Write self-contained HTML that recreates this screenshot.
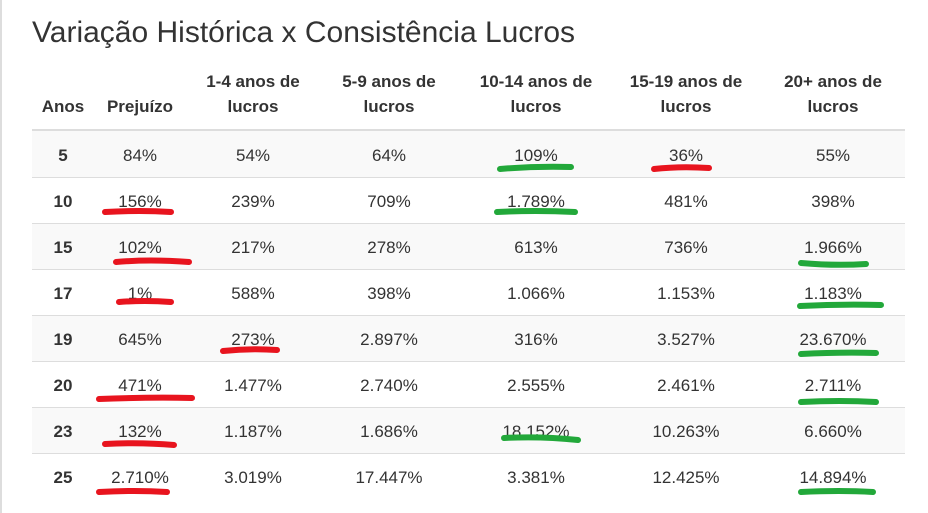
<!DOCTYPE html>
<html><head><meta charset="utf-8"><style>
body{margin:0;width:928px;height:513px;background:#fff;font-family:"Liberation Sans",Arial,sans-serif;color:#333;position:relative;overflow:hidden}
.lb{position:absolute;left:0;top:0;width:2px;height:513px;background:#ddd}
h1{position:absolute;left:32px;top:16px;margin:0;font-weight:400;font-size:30px;color:#333}
.r{position:absolute;left:32px;width:873px;height:46px;border-top:1px solid #ddd;box-sizing:border-box}
.s{background:#f9f9f9}
.c{position:absolute;transform:translateX(-50%);text-align:center;font-size:17px;white-space:nowrap}
.h{font-weight:700;line-height:25px}
</style></head><body>
<div class="lb"></div>
<h1>Variação Histórica x Consistência Lucros</h1>
<div class="c h" style="left:63px;top:94px">Anos</div>
<div class="c h" style="left:140px;top:94px">Prejuízo</div>
<div class="c h" style="left:253px;top:69px">1-4 anos de<br>lucros</div>
<div class="c h" style="left:389px;top:69px">5-9 anos de<br>lucros</div>
<div class="c h" style="left:536px;top:69px">10-14 anos de<br>lucros</div>
<div class="c h" style="left:686px;top:69px">15-19 anos de<br>lucros</div>
<div class="c h" style="left:833px;top:69px">20+ anos de<br>lucros</div>
<div style="position:absolute;left:32px;top:129px;width:873px;height:2px;background:#ddd"></div>
<div id="t"></div>
<script>
var d=[["5","84%","54%","64%","109%","36%","55%"],["10","156%","239%","709%","1.789%","481%","398%"],["15","102%","217%","278%","613%","736%","1.966%"],["17","1%","588%","398%","1.066%","1.153%","1.183%"],["19","645%","273%","2.897%","316%","3.527%","23.670%"],["20","471%","1.477%","2.740%","2.555%","2.461%","2.711%"],["23","132%","1.187%","1.686%","18.152%","10.263%","6.660%"],["25","2.710%","3.019%","17.447%","3.381%","12.425%","14.894%"]];
var xs=[63,140,253,389,536,686,833],h="";
d.forEach(function(r,i){var y=131+i*46;h+='<div class="r'+(i%2==0?' s':'')+'" style="top:'+y+'px;'+(i==0?'border-top:none':'')+'"></div>';
r.forEach(function(v,j){h+='<div class="c" style="left:'+xs[j]+'px;top:'+(y+15)+'px;'+(j==0?'font-weight:700':'')+'">'+v+'</div>'})});
document.getElementById('t').innerHTML=h;
</script>
<svg width="928" height="513" style="position:absolute;left:0;top:0" fill="none" stroke-width="6" stroke-linecap="round">
<g stroke="#e8141e">
<path d="M654 169Q680 166 709 168"/><path d="M105 212Q140 210 171 212"/><path d="M116 262Q150 259 189 262"/><path d="M119 302Q145 300 171 302"/><path d="M223 351Q250 348 277 350"/><path d="M99 399Q150 397 192 398"/><path d="M105 444Q140 442 174 445"/><path d="M99 492Q135 490 167 492"/>
</g>
<g stroke="#22a83a">
<path d="M500 169Q535 166 571 167"/><path d="M497 212Q535 210 575 212"/><path d="M801 263Q835 266 866 264"/><path d="M800 306Q840 304 881 305"/><path d="M801 354Q840 352 876 353"/><path d="M801 402Q840 400 876 402"/><path d="M504 438Q540 436 578 440"/><path d="M801 492Q840 490 873 492"/>
</g></svg>
</body></html>
